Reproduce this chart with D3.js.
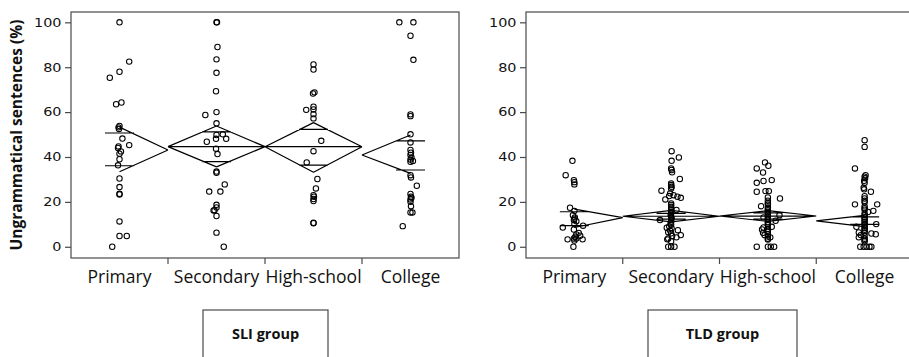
<!DOCTYPE html>
<html>
<head>
<meta charset="utf-8">
<script src="https://cdn.jsdelivr.net/npm/d3@7"></script>
<style>
  body { margin: 0; background: #fff; }
  svg { display: block; }
</style>
</head>
<body>
<svg id="chart" width="909" height="357"></svg>
<script>
// ---- data ----
const levels = ["Primary", "Secondary", "High-school", "College"];
const yTicks = [0, 20, 40, 60, 80, 100];
const yTitle = "Ungrammatical sentences (%)";
const groupNames = ["SLI group", "TLD group"];

// Each point: [score (%), horizontal jitter as a share of the level's band]
const sliPrimary = [[100,0],[82.5,.10],[78,0],[75.3,-.10],[63.5,-.035],[64.3,.02],[53.8,0],[53.2,-.01],[52.5,-.005],
  [48.2,.03],[45.3,.10],[44.7,-.01],[44,-.015],[42.5,.015],[41.5,0],[39,0],[36.3,-.015],[30.4,0],[26.6,0],
  [23.6,0],[23.3,0],[11.3,0],[4.8,0],[4.8,.075],[0,-.075]];
const sliSecondary = [[100,0],[100,.005],[89,.01],[83.5,0],[77.5,0],[69.3,-.005],[60,0],[58.7,-.115],[55,0],
  [50.1,.065],[49.8,0],[48.1,.10],[48.1,-.005],[46.8,-.10],[43.7,-.005],[41.3,.01],[33.5,0],[33,0],[27.8,.085],
  [24.6,-.075],[24.6,.04],[18.7,0],[17.5,0],[16.3,-.02],[16.2,-.03],[13.7,0],[6.3,0],[0,.075]];
const sliHighSchool = [[81.2,0],[79,0],[68.8,.01],[68.3,-.005],[62.4,0],[61.2,0],[61,-.075],[59.1,0],[57.2,0],
  [47.2,.08],[42.6,0],[37.6,-.07],[30.2,.04],[26,.025],[23,0],[22.3,.005],[21.3,0],[20.4,0],[10.7,0],[10.5,0]];
const sliCollege = [[100,-.115],[100,.03],[94,0],[83.3,.03],[59,0],[58.2,0],[50.1,0],[46.5,0],[43.1,0],[41.9,.005],
  [40.9,0],[39.8,.01],[38.9,0],[38.2,.025],[37.9,0],[31.9,0],[30.9,.005],[27.2,.065],[23.5,0],[22.3,.005],
  [21.8,.01],[21.1,0],[20.1,0],[18.1,.005],[15.3,0],[15.3,.02],[9.2,-.08]];

const tldPrimary = [[38.3,-.02],[31.9,-.09],[29.7,-.005],[28.8,0],[27.8,0],[17.4,-.045],[16,0],[14.1,-.015],
  [13.1,.005],[12.5,0],[11.9,-.005],[11.4,.02],[10.1,0],[9.4,.09],[8.6,-.12],[7.7,-.005],[6.2,.045],[5.5,.02],
  [4.9,.06],[4.5,.01],[3.7,-.005],[3.7,.02],[3.3,-.07],[3.3,.085],[2.8,0],[0,-.01]];
const tldSecondary = [[42.6,.005],[39.8,.08],[38.3,.005],[34.9,0],[34.2,.005],[33.2,.01],[30.2,.09],[28.2,0],
  [27.5,0],[26.7,.005],[26,0],[25,-.10],[23.8,-.01],[23,.025],[22.6,-.02],[22.3,.065],[21.8,.10],[21.1,-.06],
  [19.3,0],[18.6,0],[17.8,0],[17.1,0],[16.4,.055],[16.4,0],[15.6,0],[14.9,0],[14.2,-.005],[13.5,0],[12.8,.005],
  [11.9,-.115],[11.9,0],[11.2,0],[10.5,-.005],[9.8,0],[9.1,-.02],[8.5,-.045],[8.2,.005],[7.4,.07],[7.2,-.01],
  [6.5,-.03],[6,0],[5.2,.10],[4.8,.01],[4.2,.055],[3.7,-.03],[3.3,-.04],[2.5,0],[0,-.03],[0,0],[0,.035]];
const tldHighSchool = [[37.6,-.03],[36.1,.005],[34.9,-.115],[33.1,-.05],[29.7,.04],[29.3,-.045],[28.5,-.115],
  [24.8,-.025],[24.8,.01],[24.5,-.115],[22,0],[21.5,.125],[20.5,0],[19.5,0],[18.8,0],[18.1,-.07],[17.5,0],
  [16.8,0],[16.2,0],[15.5,0],[14.8,0],[14.1,.12],[13.5,0],[13.1,-.045],[12.6,0],[12,0],[11.6,.08],[11,0],
  [10.3,0],[9.6,0],[8.9,.04],[8.6,-.045],[8,0],[7.7,-.06],[7.2,0],[6.6,0],[6.2,-.05],[5.6,0],[5.2,-.035],
  [4.6,0],[4.2,.025],[3.6,0],[3.2,0],[0,-.115],[0,0],[0,.03],[0,.065]];
const tldCollege = [[47.5,0],[44.5,0],[34.9,-.10],[31.9,.01],[31.2,0],[30.5,.005],[29.4,-.005],[28.5,0],
  [26.3,-.01],[25.6,-.005],[24.5,.065],[22.5,0],[21.5,0],[20.5,0],[19.8,0],[18.9,-.10],[18.9,.13],[18,0],
  [17.2,0],[16.5,0],[16,.09],[15.5,.035],[14.8,0],[14,0],[13.2,0],[12.5,0],[11.8,0],[11.1,0],[10.4,0],
  [10.1,.12],[9.7,0],[9,0],[8.9,-.085],[8.3,0],[7.6,0],[6.9,0],[6.4,-.06],[6.2,0],[5.9,.07],[5.6,.115],
  [5.2,-.04],[4.8,0],[4.2,-.06],[3.6,0],[3,0],[2.4,0],[0,-.045],[0,-.01],[0,.02],[0,.05],[0,.07]];

// Means diamonds: group mean, 95% CI, and overlap marks
const sliMean = [43.1, 44.6, 44.6, 40.9];
const sliCiLow = [33.4, 35.6, 33.2, 32.7];
const sliCiHigh = [53.3, 53.8, 55.3, 49.8];
const sliOverlapLow = [36.1, 37.9, 36.4, 34.2];
const sliOverlapHigh = [50.7, 51.2, 52.3, 47.2];

const tldMean = [13.0, 13.6, 13.7, 11.5];
const tldCiLow = [8.6, 11.1, 11.3, 9.0];
const tldCiHigh = [16.8, 16.2, 16.1, 14.0];
const tldOverlapLow = [9.4, 12.3, 12.3, 10.0];
const tldOverlapHigh = [15.6, 14.9, 15.1, 13.3];

// ---- layout ----
const svg = d3.select("#chart");
const plotTop = 12, plotBottom = 258;
const frameColor = "#4a4a4a";
const inkColor = "#111";

const y = d3.scaleLinear().domain([-5, 104.6]).range([plotBottom, plotTop]);

function drawPanel(x0, width, pointSets, stats, caption, boxWidth, boxShift) {
  const g = svg.append("g");
  const x = d3.scaleBand().domain(levels).range([x0, x0 + width]);
  const bw = x.bandwidth();
  const mid = l => x(l) + bw / 2;
  const n = levels.length;

  // frame
  g.append("rect")
    .attr("x", x0).attr("y", plotTop)
    .attr("width", width).attr("height", plotBottom - plotTop)
    .attr("fill", "none").attr("stroke", frameColor).attr("stroke-width", 1.2);

  // y axis
  const yAxis = g.append("g")
    .attr("transform", `translate(${x0},0)`)
    .call(d3.axisLeft(y).tickValues(yTicks).tickSize(6).tickPadding(0));
  yAxis.select(".domain").remove();
  yAxis.selectAll(".tick line").attr("stroke", frameColor).attr("stroke-width", 1.2);
  const stretch = 1.2;
  yAxis.selectAll(".tick text")
    .attr("font-family", "DejaVu Sans")
    .attr("font-size", 12)
    .attr("fill", inkColor)
    .attr("x", -9.5 / stretch)
    .attr("transform", `scale(${stretch},1)`);

  // x tick marks at level boundaries
  g.selectAll(".xtick").data(levels.slice(1)).join("line")
    .attr("x1", d => x(d)).attr("x2", d => x(d))
    .attr("y1", plotBottom).attr("y2", plotBottom + 6)
    .attr("stroke", frameColor).attr("stroke-width", 1.2);

  g.selectAll(".xlabel").data(levels).join("text")
    .attr("x", d => mid(d)).attr("y", 283)
    .attr("text-anchor", "middle")
    .attr("font-family", "Open Sans")
    .attr("font-size", 17.5)
    .attr("fill", inkColor)
    .text(d => d);

  // points
  levels.forEach((lvl, i) => {
    g.append("g").selectAll("circle").data(pointSets[i]).join("circle")
      .attr("cx", d => mid(lvl) + d[1] * bw)
      .attr("cy", d => y(d[0]))
      .attr("r", 2.7)
      .attr("fill", "none")
      .attr("stroke", "#000")
      .attr("stroke-width", 1.05);
  });

  // means diamonds
  const path = d3.path();
  levels.forEach((lvl, i) => {
    const c = mid(lvl), left = x(lvl), right = x(lvl) + bw;
    const ym = y(stats.mean[i]), yh = y(stats.hi[i]), yl = y(stats.lo[i]);
    if (i > 0) {
      path.moveTo(left, ym); path.lineTo(c, yh);
      path.moveTo(left, ym); path.lineTo(c, yl);
    }
    if (i < n - 1) {
      path.moveTo(c, yh); path.lineTo(right, ym);
      path.moveTo(c, yl); path.lineTo(right, ym);
    }
    if (i > 0 && i < n - 1) {
      path.moveTo(left, ym); path.lineTo(right, ym);
    }
    const half = bw * 0.15;
    path.moveTo(c - half, y(stats.oHi[i])); path.lineTo(c + half, y(stats.oHi[i]));
    path.moveTo(c - half, y(stats.oLo[i])); path.lineTo(c + half, y(stats.oLo[i]));
  });
  g.append("path").attr("d", path.toString())
    .attr("fill", "none").attr("stroke", "#000").attr("stroke-width", 1.2);

  // group caption box
  const cx = x0 + width / 2 + boxShift;
  g.append("rect")
    .attr("x", cx - boxWidth / 2).attr("y", 310)
    .attr("width", boxWidth).attr("height", 70)
    .attr("fill", "none").attr("stroke", frameColor).attr("stroke-width", 1.2);
  g.append("text")
    .attr("x", cx).attr("y", 339)
    .attr("text-anchor", "middle")
    .attr("font-family", "Open Sans")
    .attr("font-weight", "bold")
    .attr("font-size", 14.5)
    .attr("fill", inkColor)
    .text(caption);
}

drawPanel(71, 388,
  [sliPrimary, sliSecondary, sliHighSchool, sliCollege],
  { mean: sliMean, lo: sliCiLow, hi: sliCiHigh, oLo: sliOverlapLow, oHi: sliOverlapHigh },
  groupNames[0], 125, 0.5);

drawPanel(526, 387,
  [tldPrimary, tldSecondary, tldHighSchool, tldCollege],
  { mean: tldMean, lo: tldCiLow, hi: tldCiHigh, oLo: tldOverlapLow, oHi: tldOverlapHigh },
  groupNames[1], 149, 3);

// shared y-axis title
svg.append("text")
  .attr("transform", `translate(22,${(plotTop + plotBottom) / 2}) rotate(-90)`)
  .attr("text-anchor", "middle")
  .attr("font-family", "Open Sans")
  .attr("font-weight", "bold")
  .attr("font-size", 15.5)
  .attr("fill", inkColor)
  .text(yTitle);
</script>
</body>
</html>
